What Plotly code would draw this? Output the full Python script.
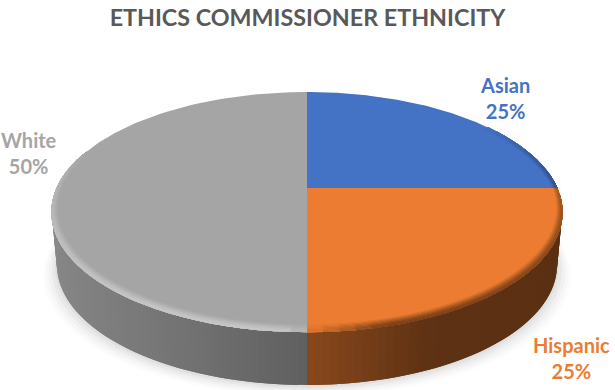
import numpy as np
import plotly.graph_objects as go

# Survey shares, clockwise from twelve o'clock
categories = ["Asian", "Hispanic", "White"]
shares = [25, 25, 50]
colors = [(68, 114, 196), (235, 124, 49), (165, 165, 165)]
label_centers = [(505, 98), (571, 358), (29, 153)]
title_text = "ETHICS COMMISSIONER ETHNICITY"

# Perspective view of the disc
CX, CY, RADIUS, DEPTH, TILT = 307, 188, 250, 115.2, 0.2
WALL, WALL_SCALE = 53, 0.98


def project(theta, r=1.0):
    """Map an angle (deg, clockwise from top) and radius on the disc to the page."""
    t = np.radians(theta)
    u, v = r * np.sin(t), r * np.cos(t)
    w = 1 + TILT * v
    return CX + RADIUS * u / w, CY - DEPTH * v / w


def wall_shade(theta):
    u = np.sin(np.radians(theta))
    return float(np.interp(u, [-1, -0.5, 0, 0.4, 1], [0.83, 0.72, 0.58, 0.40, 0.38]))


def rim_target(theta):
    u = np.sin(np.radians(theta))
    return float(np.interp(u, [-1, -0.05, 0.0, 0.25, 1], [1.28, 1.2, 1.0, 0.5, 0.40]))


def rim_weight(theta):
    # The light falls off sooner on the left of the disc than the shadow does on the right
    reach = 125 if theta <= 180 else 105
    return float(np.clip(1 - abs(theta - 180) / reach, 0, 1) ** 0.6)


def rim_width(theta):
    # Bevel is thin in page terms, so it narrows radially towards the sides of the disc
    return 0.40 + 0.60 * abs(np.cos(np.radians(theta)))


def rgb(c, k=1.0):
    return "rgb(%d,%d,%d)" % tuple(min(255, round(x * k)) for x in c)


def mix(c, target, w):
    return tuple(a + (b - a) * w for a, b in zip(c, target))


def polygon(fig, xs, ys, color, name, opacity=1.0):
    fig.add_trace(go.Scatter(
        x=xs, y=ys, mode="lines", fill="toself", fillcolor=color, opacity=opacity,
        line=dict(width=0), name=name, hoverinfo="skip", showlegend=False,
    ))


fig = go.Figure()

# Slice angle spans derived from the shares
ends = np.cumsum(shares) / np.sum(shares) * 360
starts = np.concatenate([[0], ends[:-1]])

# Soft ground shadow
ring = np.linspace(0, 360, 181)
for grow, alpha in zip([14, 11, 8, 5, 2], [0.02, 0.03, 0.04, 0.05, 0.06]):
    px, py = project(ring)
    sx = CX + (px - CX) * WALL_SCALE * (1 + grow / 250)
    sy = py + WALL + grow * 0.75 + 1
    polygon(fig, sx, sy, "rgb(90,90,90)", "shadow", alpha)

# Side wall, in overlapping strips so the shading runs around the disc without seams
for name, col, a0, a1 in zip(categories, colors, starts, ends):
    lo, hi = max(a0, 90), min(a1, 290)
    if hi <= lo:
        continue
    edges = np.arange(lo, hi + 0.01, 1.5)
    for e0, e1 in zip(edges[:-1], edges[1:]):
        mid = (e0 + e1) / 2
        e2 = min(e1 + 1.5, hi)
        tx, ty = project(np.array([e0, e2]))
        bx = CX + (tx - CX) * WALL_SCALE
        by = ty + WALL
        polygon(fig, [tx[0], tx[1], bx[1], bx[0], tx[0]], [ty[0], ty[1], by[1], by[0], ty[0]],
                rgb(col, wall_shade(mid)), name)

# Top face of each slice
for name, col, a0, a1 in zip(categories, colors, starts, ends):
    arc = np.linspace(a0, a1, 121)
    ax, ay = project(arc)
    polygon(fig, [CX, *ax, CX], [CY, *ay, CY], rgb(col), name)

# Bevel along the front rim: nested bands, innermost first, each reaching the edge
levels = [0.15, 0.35, 0.55, 0.75, 0.9, 1.0]
for name, col, a0, a1 in zip(categories, colors, starts, ends):
    for j, lev in enumerate(levels):
        edges = np.arange(a0, a1 + 0.01, 3.0)
        for e0, e1 in zip(edges[:-1], edges[1:]):
            mid = (e0 + e1) / 2
            w = rim_weight(mid)
            if w <= 0:
                continue
            target = tuple(min(255, x * rim_target(mid)) for x in col)
            e2 = min(e1 + 3.0, a1)
            span = np.linspace(e0, e2, 4)
            inner = 1 - 0.042 * rim_width(mid) * (1 - j / len(levels))
            x0, y0 = project(span, inner)
            x1, y1 = project(span[::-1], 1.002)
            polygon(fig, [*x0, *x1, x0[0]], [*y0, *y1, y0[0]], rgb(mix(col, target, w * lev)), name)

# Category labels with their percentages
for name, col, share, (lx, ly) in zip(categories, colors, shares, label_centers):
    fig.add_annotation(
        x=lx, y=ly, text=f"{name}<br>{share}%", showarrow=False, align="center",
        font=dict(family="Lato", size=20, color=rgb(col), weight="bold"),
    )

fig.update_layout(
    width=615, height=390, margin=dict(l=0, r=0, t=0, b=0),
    paper_bgcolor="white", plot_bgcolor="white", showlegend=False,
    title=dict(text=title_text, x=0.5, xanchor="center", y=0.953, yanchor="middle",
               font=dict(family="Lato", size=23.3, color="#595959", weight="bold")),
    xaxis=dict(range=[0, 615], visible=False, fixedrange=True),
    yaxis=dict(range=[390, 0], visible=False, fixedrange=True),
)
fig.write_html("out.html", config={"displayModeBar": False})
